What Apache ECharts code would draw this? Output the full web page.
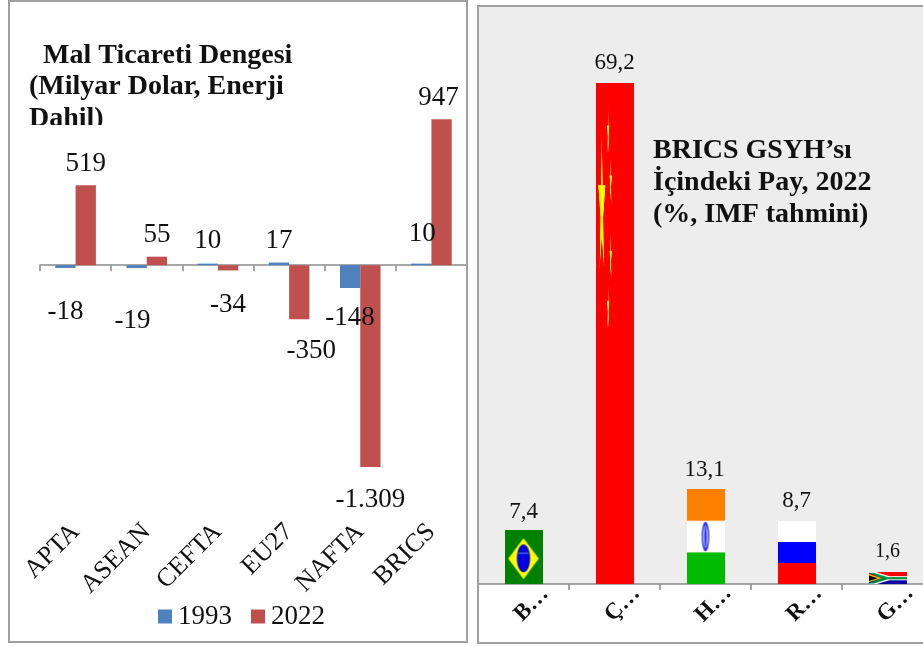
<!DOCTYPE html>
<html><head><meta charset="utf-8">
<style>html,body{margin:0;padding:0;background:#fff}#c{width:923px;height:646px}</style>
<script src="https://cdn.jsdelivr.net/npm/echarts@6/dist/echarts.min.js"></script>
</head><body><div id="c"></div>
<script>
const tradeCategories = ['APTA','ASEAN','CEFTA','EU27','NAFTA','BRICS'];
const trade1993 = [-18,-19,10,17,-148,10];
const trade2022 = [519,55,-34,-350,-1309,947];
const shareCategories = ['B…','Ç…','H…','R…','G…'];
const shareValues = [7.4,69.2,13.1,8.7,1.6];
const tradeTicks = {min:-1400,max:1000};

// label nudges, kept apart from the data
const offsets1993 = [[0,25],[-4,34],[0,-4],[0,-3],[0,11],[1,-11]];
const offsets2022 = [[0,-3],[0,-3],[0,16],[12,13],[0,14],[-3,-3]];
const offsetsShare = [[0,-2],[0,-4],[-1,-3],[0,-4],[0,-6]];
const FONT = '"Liberation Serif", serif';
const INK = '#111';

function flag(w,h,draw){
  const c=document.createElement('canvas');c.width=w;c.height=h;
  const x=c.getContext('2d');x.scale(w,h);draw(x);
  return 'image://'+c.toDataURL();
}
function rect(x,col,a,b,c,d){x.fillStyle=col;x.fillRect(a,b,c,d);}
function poly(x,col,pts){x.fillStyle=col;x.beginPath();pts.forEach((p,i)=>i?x.lineTo(p[0],p[1]):x.moveTo(p[0],p[1]));x.closePath();x.fill();}
function ell(x,col,cx,cy,rx,ry){x.fillStyle=col;x.beginPath();x.ellipse(cx,cy,rx,ry,0,0,Math.PI*2);x.fill();}
function star(x,col,cx,cy,rx,ry){
  const p=[];for(let i=0;i<10;i++){const r=i%2?0.382:1,a=-Math.PI/2+i*Math.PI/5;p.push([cx+rx*r*Math.cos(a),cy+ry*r*Math.sin(a)]);}
  poly(x,col,p);
}
const flags=[
 flag(152,216,x=>{rect(x,'#008000',0,0,1,1);poly(x,'#FFFF00',[[.5,.145],[.9,.525],[.5,.91],[.1,.525]]);
   ell(x,'#0000E0',.5,.52,.175,.26);rect(x,'#BFE0E0',.36,.42,.28,.012);}),
 flag(228,1500,x=>{rect(x,'#FF0000',0,0,1,1);
   star(x,'#FFFF00',1/6,.25,.1,.15);
   [[1/3,.1],[.4,.2],[.4,.35],[1/3,.45]].forEach(s=>star(x,'#FFFF00',s[0],s[1],.033,.05));}),
 flag(152,380,x=>{rect(x,'#FF8000',0,0,1,1/3);rect(x,'#FFFFFF',0,1/3,1,1/3);rect(x,'#00BB00',0,2/3,1,1/3);
   ell(x,'#3030F0',.5,.5,.1,.155);ell(x,'#C0C8FF',.5,.5,.065,.12);ell(x,'#2020E0',.5,.5,.025,.12);}),
 flag(148,252,x=>{rect(x,'#FFFFFF',0,0,1,1/3);rect(x,'#0000FF',0,1/3,1,1/3);rect(x,'#FF0000',0,2/3,1,1/3);}),
 flag(148,46,x=>{rect(x,'#FF0000',0,0,1,.5);rect(x,'#0000A0',0,.5,1,.5);
   poly(x,'#FFFFFF',[[0,0],[.22,0],[.55,.32],[1,.32],[1,.68],[.55,.68],[.22,1],[0,1],[.4,.5]]);
   poly(x,'#009040',[[0,.04],[.14,.04],[.5,.4],[1,.4],[1,.6],[.5,.6],[.14,.96],[0,.96],[.34,.5]]);
   poly(x,'#FFC000',[[0,.14],[.34,.5],[0,.86]]);poly(x,'#000000',[[0,.25],[.24,.5],[0,.75]]);})
];

const numTr=v=>String(v).replace(/\B(?=(\d{3})+(?!\d))/g,'.');
const decTr=v=>String(v).replace('.',',');
const withOffsets=(vals,offs)=>vals.map((v,i)=>({value:v,label:{offset:offs[i]}}));

const chart=echarts.init(document.getElementById('c'),null,{renderer:'canvas'});
const axisLine={show:true,lineStyle:{color:'#8A8A8A',width:1.5}};
chart.setOption({
  animation:false,
  backgroundColor:'#fff',
  textStyle:{fontFamily:FONT},
  title:[
    {text:'  Mal Ticareti Dengesi\n(Milyar Dolar, Enerji\nDahil)',left:24,top:35,
     textStyle:{fontFamily:FONT,fontWeight:'bold',fontSize:28,lineHeight:31.5,color:INK}},
    {text:'BRICS GSYH’sı\nİçindeki Pay, 2022\n(%, IMF tahmini)',left:648,top:130,
     textStyle:{fontFamily:FONT,fontWeight:'bold',fontSize:28,lineHeight:32,color:INK}}
  ],
  legend:{data:['1993','2022'],left:153,top:598,itemWidth:14,itemHeight:14,itemGap:19,
    icon:'rect',textStyle:{fontFamily:FONT,fontSize:27,color:INK,padding:[3,0,0,1]}},
  grid:[
    {left:40,top:111,width:427,height:370,outerBoundsMode:'none'},
    {left:478,top:5,width:455,height:579,show:true,backgroundColor:'#EDEDED',borderWidth:0,outerBoundsMode:'none'}
  ],
  xAxis:[
    {gridIndex:0,type:'category',data:tradeCategories,axisLine:Object.assign({onZero:true},axisLine),
     axisTick:{show:true,length:6,alignWithLabel:false,lineStyle:{color:'#8A8A8A',width:1.5}},
     axisLabel:{interval:0,rotate:45,margin:47,fontFamily:FONT,fontSize:26,color:INK}},
    {gridIndex:1,type:'category',data:shareCategories,axisLine:axisLine,
     axisTick:{show:true,length:6,alignWithLabel:false,lineStyle:{color:'#8A8A8A',width:1.5}},
     axisLabel:{interval:0,rotate:45,margin:12,align:'center',verticalAlign:'top',fontFamily:FONT,fontWeight:'bold',fontSize:23,color:INK}}
  ],
  yAxis:[
    {gridIndex:0,type:'value',min:tradeTicks.min,max:tradeTicks.max,show:false,splitLine:{show:false}},
    {gridIndex:1,type:'value',min:0,max:80,show:false,splitLine:{show:false}}
  ],
  series:[
    {name:'1993',type:'bar',xAxisIndex:0,yAxisIndex:0,barWidth:20.3,barGap:0,
     itemStyle:{color:'#4F81BD'},data:withOffsets(trade1993,offsets1993),
     label:{show:true,position:'outside',fontFamily:FONT,fontSize:27,color:INK,formatter:p=>numTr(p.value)}},
    {name:'2022',type:'bar',xAxisIndex:0,yAxisIndex:0,barWidth:20.3,barGap:0,
     itemStyle:{color:'#C0504D'},data:withOffsets(trade2022,offsets2022),
     label:{show:true,position:'outside',fontFamily:FONT,fontSize:27,color:INK,formatter:p=>numTr(p.value)}},
    {name:'Pay',type:'pictorialBar',xAxisIndex:1,yAxisIndex:1,symbolSize:[38,'100%'],symbolPosition:'start',
     data:shareValues.map((v,i)=>({value:v,symbol:flags[i],
       label:{offset:offsetsShare[i],fontSize:i===4?20:23}})),
     label:{show:true,position:'top',fontFamily:FONT,color:INK,formatter:p=>decTr(p.value)}}
  ],
  graphic:[
    {type:'rect',z:49,silent:true,shape:{x:28,y:125,width:90,height:7},style:{fill:'#fff'}},
    {type:'rect',z:50,silent:true,shape:{x:9,y:1,width:458,height:641},style:{fill:'none',stroke:'#A0A0A0',lineWidth:2}},
    {type:'rect',z:50,silent:true,shape:{x:478,y:6,width:460,height:637},style:{fill:'none',stroke:'#A0A0A0',lineWidth:2}}
  ]
});
</script></body></html>
